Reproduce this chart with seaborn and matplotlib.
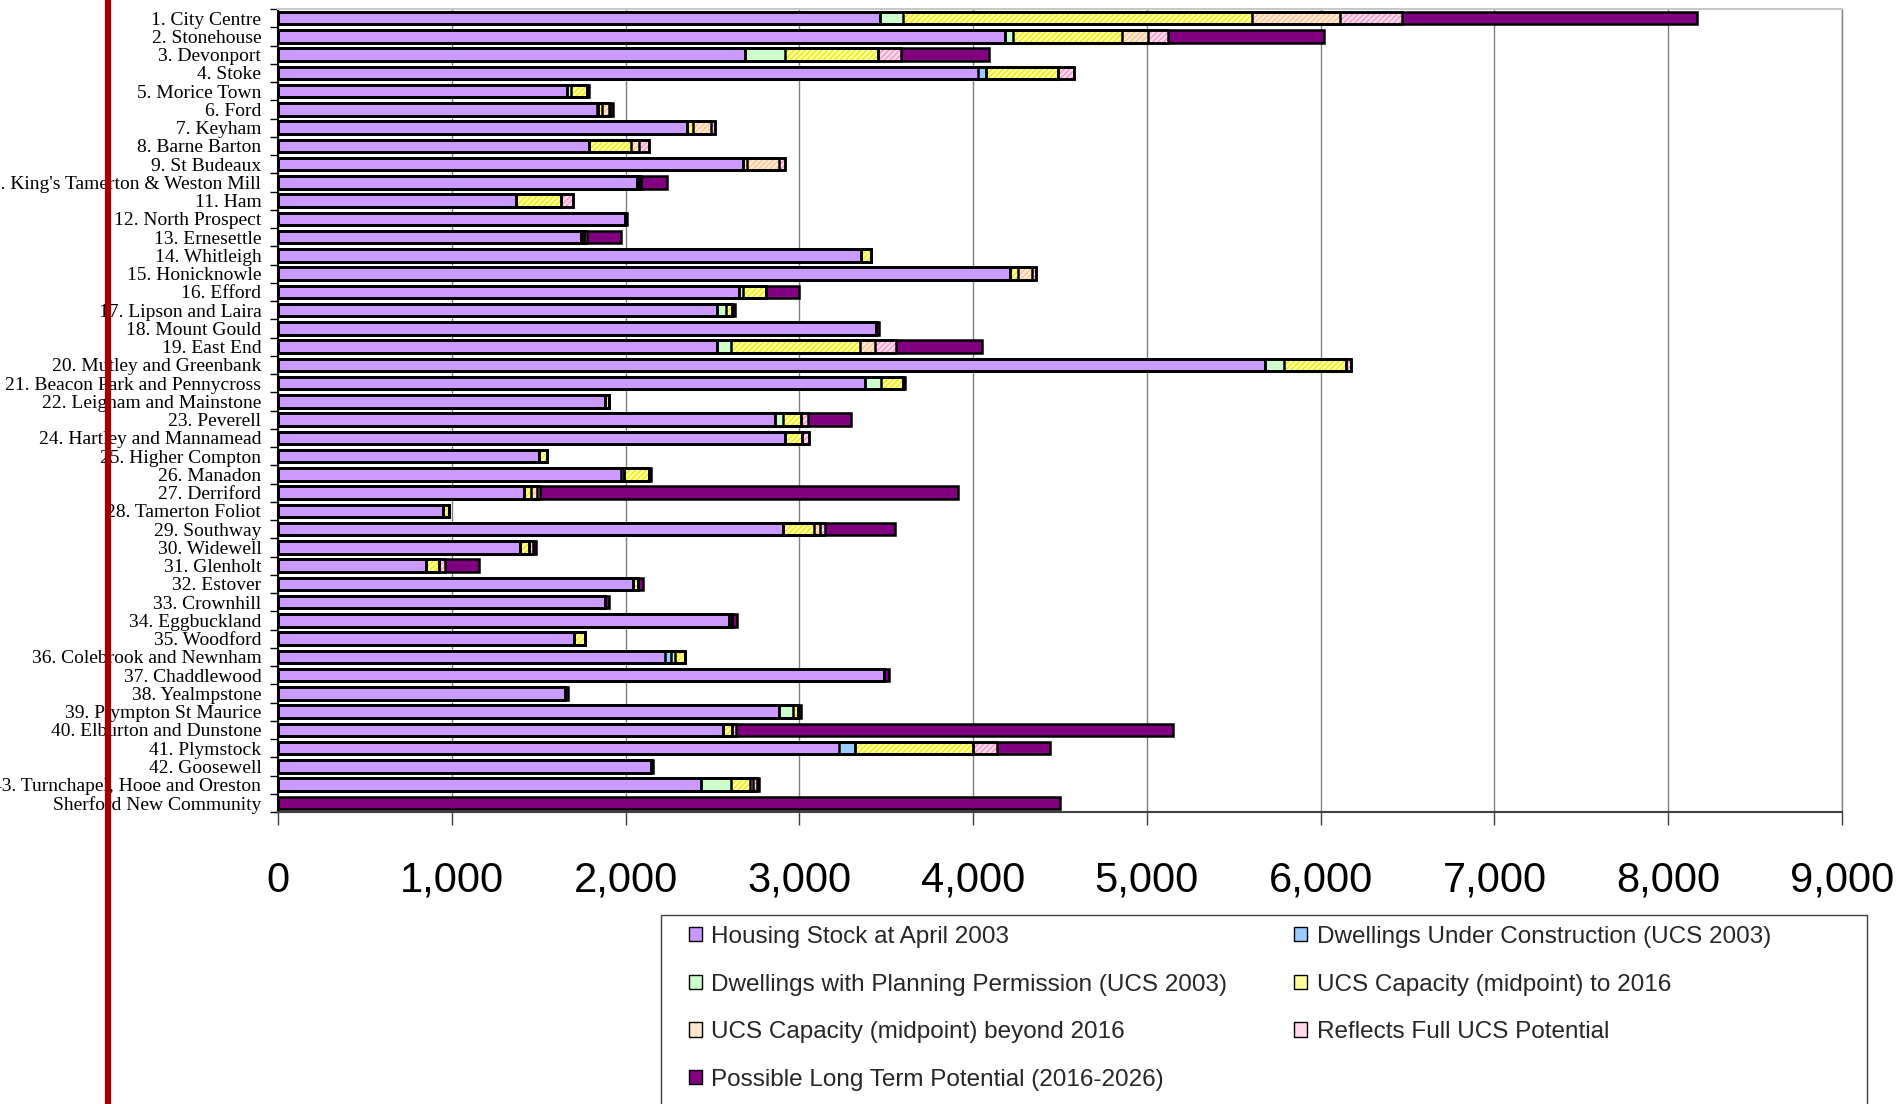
import matplotlib
matplotlib.use("Agg")
import numpy as np
import matplotlib.pyplot as plt
import seaborn as sns
from matplotlib.patches import Patch, Rectangle
from matplotlib.lines import Line2D
from matplotlib.ticker import FixedLocator

# Wards (top to bottom)
wards = [
    "1. City Centre", "2. Stonehouse", "3. Devonport", "4. Stoke", "5. Morice Town",
    "6. Ford", "7. Keyham", "8. Barne Barton", "9. St Budeaux",
    "10. King's Tamerton & Weston Mill", "11. Ham", "12. North Prospect",
    "13. Ernesettle", "14. Whitleigh", "15. Honicknowle", "16. Efford",
    "17. Lipson and Laira", "18. Mount Gould", "19. East End",
    "20. Mutley and Greenbank", "21. Beacon Park and Pennycross",
    "22. Leigham and Mainstone", "23. Peverell", "24. Hartley and Mannamead",
    "25. Higher Compton", "26. Manadon", "27. Derriford", "28. Tamerton Foliot",
    "29. Southway", "30. Widewell", "31. Glenholt", "32. Estover", "33. Crownhill",
    "34. Eggbuckland", "35. Woodford", "36. Colebrook and Newnham",
    "37. Chaddlewood", "38. Yealmpstone", "39. Plympton St Maurice",
    "40. Elburton and Dunstone", "41. Plymstock", "42. Goosewell",
    "43. Turnchapel, Hooe and Oreston", "Sherford New Community",
]

housing_stock = [3463, 4186, 2690, 4028, 1662, 1834, 2353, 1790, 2674, 2063, 1367, 1999,
                 1741, 3354, 4210, 2651, 2528, 3441, 2528, 5677, 3379, 1882, 2859, 2915,
                 1503, 1974, 1413, 951, 2905, 1390, 849, 2044, 1879, 2595, 1703, 2228,
                 3487, 1651, 2882, 2562, 3226, 2146, 2436, 0]
under_construction = [0, 0, 0, 44, 0, 10, 0, 0, 0, 0, 0, 0,
                      0, 0, 0, 0, 0, 0, 0, 0, 0, 0, 0, 0,
                      0, 18, 0, 0, 0, 0, 0, 0, 0, 0, 0, 31,
                      0, 0, 0, 0, 92, 0, 0, 0]
planning_permission = [136, 44, 227, 0, 22, 0, 0, 0, 0, 0, 0, 0,
                       0, 0, 0, 23, 51, 0, 80, 113, 90, 0, 46, 0,
                       0, 0, 0, 0, 0, 0, 0, 0, 0, 18, 0, 23,
                       0, 0, 80, 0, 0, 0, 172, 0]
ucs_to_2016 = [2005, 627, 535, 415, 92, 20, 35, 242, 22, 12, 262, 0,
               20, 56, 50, 134, 36, 0, 743, 357, 128, 20, 105, 103,
               43, 144, 43, 34, 182, 56, 79, 28, 0, 0, 64, 59,
               0, 0, 30, 48, 680, 0, 110, 0]
ucs_beyond_2016 = [507, 148, 0, 0, 0, 40, 104, 48, 188, 0, 0, 0,
                   0, 0, 80, 0, 0, 0, 82, 0, 0, 0, 0, 0,
                   0, 0, 36, 0, 34, 0, 0, 0, 0, 0, 0, 0,
                   0, 0, 0, 0, 0, 0, 18, 0]
full_ucs_potential = [356, 115, 132, 92, 0, 8, 22, 57, 33, 12, 68, 0,
                      20, 0, 20, 0, 0, 0, 126, 30, 0, 0, 40, 36,
                      0, 0, 18, 0, 25, 21, 33, 0, 0, 0, 0, 0,
                      0, 0, 0, 25, 140, 0, 18, 0]
long_term_potential = [1700, 900, 510, 0, 15, 15, 0, 0, 0, 150, 0, 12,
                       193, 0, 0, 189, 15, 15, 495, 0, 10, 0, 247, 0,
                       0, 13, 2404, 0, 403, 15, 197, 30, 28, 28, 0, 0,
                       28, 15, 15, 2514, 307, 13, 15, 4500]

series_labels = [
    "Housing Stock at April 2003",
    "Dwellings Under Construction (UCS 2003)",
    "Dwellings with Planning Permission (UCS 2003)",
    "UCS Capacity (midpoint) to 2016",
    "UCS Capacity (midpoint) beyond 2016",
    "Reflects Full UCS Potential",
    "Possible Long Term Potential (2016-2026)",
]

x_ticks = [0, 1000, 2000, 3000, 4000, 5000, 6000, 7000, 8000, 9000]
x_tick_labels = ["0", "1,000", "2,000", "3,000", "4,000", "5,000",
                 "6,000", "7,000", "8,000", "9,000"]

series_values = [housing_stock, under_construction, planning_permission, ucs_to_2016,
                 ucs_beyond_2016, full_ucs_potential, long_term_potential]
face_colors = ["#CC99FF", "#99CCFF", "#CCFFCC", "#FFFF99", "#FFE8D0", "#FFD8EC", "#800080"]
hatch_colors = ["#CC99FF", "#99CCFF", "#CCFFCC", "#E6E600", "#F5BE8C", "#F08CC0", "#800080"]
hatches = [None, None, None, "//////", "//////", "//////", None]

sns.set_theme(style="white")
plt.rcParams["font.family"] = ["Liberation Sans", "DejaVu Sans"]
plt.rcParams["hatch.linewidth"] = 0.8

W, H = 1901, 1104
fig = plt.figure(figsize=(W / 100, H / 100), dpi=100)
ax = fig.add_axes([278 / W, 1 - 812 / H, (1842 - 278) / W, (812 - 9) / H])

cum = np.cumsum(np.array(series_values, dtype=float), axis=0)

# Stacked bars: draw cumulative totals from the longest down, each covering the next
for k in range(6, -1, -1):
    sns.barplot(x=cum[k], y=wards, orient="y", color=face_colors[k], saturation=1,
                width=0.68, edgecolor=hatch_colors[k], linewidth=0, hatch=hatches[k],
                errorbar=None, ax=ax, zorder=2)
# Black outlines marking each segment boundary
for k in range(7):
    sns.barplot(x=cum[k], y=wards, orient="y", fill=False, color="black",
                width=0.68, linewidth=1.8, errorbar=None, ax=ax, zorder=3)

ax.set_xlim(0, 9000)
ax.set_ylim(len(wards) - 0.5, -0.5)
ax.set_xlabel("")
ax.set_ylabel("")
ax.set_xticks(x_ticks)
ax.set_xticklabels(x_tick_labels)
ax.tick_params(axis="x", bottom=True, length=9, width=1, color="#404040",
               labelsize=30, pad=26, labelcolor="black")

ax.set_yticks(range(len(wards)))
ax.set_yticklabels(wards, fontfamily="Liberation Serif", fontsize=14)
ax.tick_params(axis="y", which="major", length=0, pad=12, labelcolor="black")
ax.yaxis.set_minor_locator(FixedLocator(np.arange(-0.5, len(wards), 1.0)))
ax.tick_params(axis="y", which="minor", left=True, length=6, width=1, color="black")

ax.set_axisbelow(True)
ax.xaxis.grid(True, color="#808080", linewidth=1)
ax.yaxis.grid(False)
ax.spines["left"].set_color("black")
ax.spines["left"].set_linewidth(1.5)
ax.spines["bottom"].set_color("#404040")
ax.spines["bottom"].set_linewidth(1.5)
ax.spines["top"].set_color("#C8C8C8")
ax.spines["top"].set_linewidth(1.5)
ax.spines["right"].set_color("#808080")
ax.spines["right"].set_linewidth(1)

# Legend (column-major fill, so items are reordered to read across rows)
order = [0, 2, 4, 6, 1, 3, 5]
handles = [Patch(facecolor=face_colors[i], edgecolor="black", linewidth=1) for i in order]
labels = [series_labels[i] for i in order]
fig.legend(handles, labels, loc="upper left", bbox_to_anchor=(689 / W, 1 - 926 / H),
           ncol=2, frameon=False, fontsize=17.5, handlelength=0.52, handleheight=0.52,
           handletextpad=0.4, columnspacing=2.75, labelspacing=1.05,
           borderaxespad=0, borderpad=0)
fig.add_artist(Rectangle((661 / W, -0.01), (1867 - 661) / W, (H - 915) / H + 0.01,
                         transform=fig.transFigure, fill=False, edgecolor="#404040",
                         linewidth=1))

# Vertical rule at the left margin
fig.add_artist(Line2D([108 / W, 108 / W], [0, 1], transform=fig.transFigure,
                      color="#A00000", linewidth=4.5, zorder=10))

fig.savefig("out.png", dpi=100)
